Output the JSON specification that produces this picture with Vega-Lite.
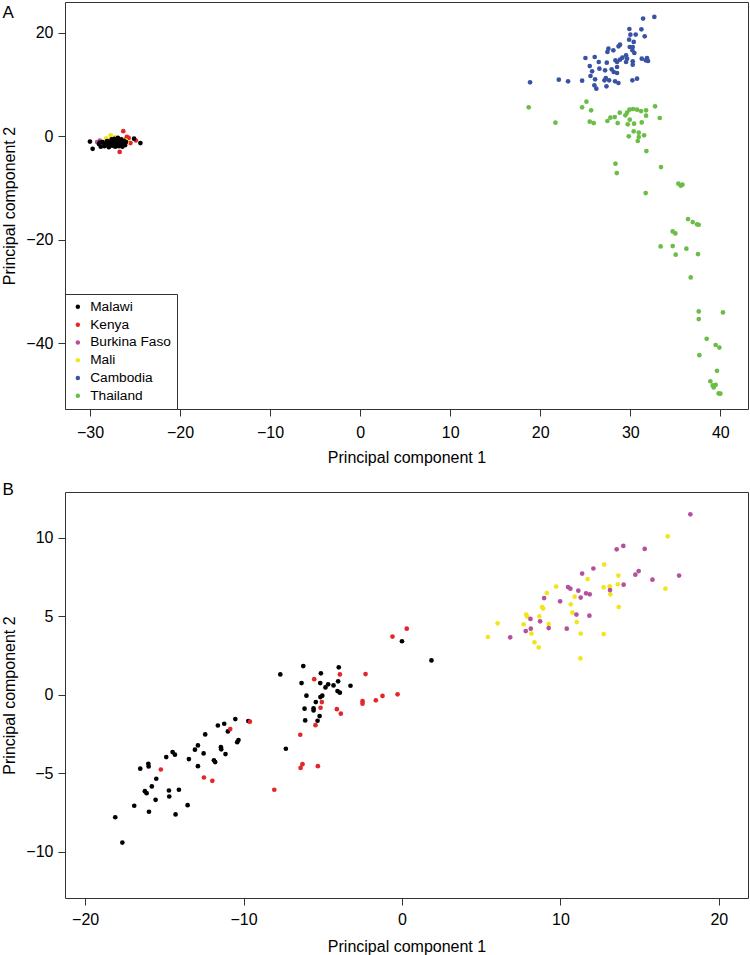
{
 "$schema": "https://vega.github.io/schema/vega-lite/v6.json",
 "padding": {"left": 0, "top": 1, "right": 0, "bottom": 0},
 "autosize": {"type": "pad"},
 "bounds": "flush",
 "spacing": 83,
 "background": "white",
 "datasets": {
  "pcaA": [
   {"country":"Kenya","pc1":-26.3,"pc2":1.0},{"country":"Kenya","pc1":-26.7,"pc2":-3.0},{"country":"Kenya","pc1":-25.9,"pc2":-0.1},{"country":"Kenya","pc1":-25.5,"pc2":-1.3},{"country":"Kenya","pc1":-24.9,"pc2":-0.8},{"country":"Kenya","pc1":-26.0,"pc2":-0.6},{"country":"Kenya","pc1":-25.7,"pc2":-0.3},{"country":"Kenya","pc1":-27.0,"pc2":-1.0},{"country":"Kenya","pc1":-27.5,"pc2":-0.8},{"country":"Kenya","pc1":-26.5,"pc2":-1.5},
   {"country":"Burkina Faso","pc1":-29.2,"pc2":-1.1},{"country":"Burkina Faso","pc1":-28.9,"pc2":-0.8},{"country":"Burkina Faso","pc1":-28.5,"pc2":-1.4},{"country":"Burkina Faso","pc1":-28.0,"pc2":-0.9},{"country":"Burkina Faso","pc1":-27.8,"pc2":-1.5},{"country":"Burkina Faso","pc1":-28.6,"pc2":-1.8},{"country":"Burkina Faso","pc1":-27.2,"pc2":-1.2},{"country":"Burkina Faso","pc1":-26.8,"pc2":-1.7},
   {"country":"Mali","pc1":-27.7,"pc2":0.2},{"country":"Mali","pc1":-26.0,"pc2":-0.8},{"country":"Mali","pc1":-27.2,"pc2":-0.2},{"country":"Mali","pc1":-28.2,"pc2":-0.4},{"country":"Mali","pc1":-26.6,"pc2":-0.5},{"country":"Mali","pc1":-27.5,"pc2":-1.0},{"country":"Mali","pc1":-28.4,"pc2":-1.0},{"country":"Mali","pc1":-25.9,"pc2":-1.2},
   {"country":"Malawi","pc1":-30.0,"pc2":-1.0},{"country":"Malawi","pc1":-29.7,"pc2":-2.4},{"country":"Malawi","pc1":-29.0,"pc2":-1.5},{"country":"Malawi","pc1":-28.8,"pc2":-2.0},{"country":"Malawi","pc1":-28.6,"pc2":-1.1},{"country":"Malawi","pc1":-28.4,"pc2":-1.9},{"country":"Malawi","pc1":-28.3,"pc2":-1.4},{"country":"Malawi","pc1":-28.1,"pc2":-0.9},{"country":"Malawi","pc1":-28.0,"pc2":-1.7},{"country":"Malawi","pc1":-27.9,"pc2":-2.1},{"country":"Malawi","pc1":-27.8,"pc2":-1.2},{"country":"Malawi","pc1":-27.6,"pc2":-0.6},{"country":"Malawi","pc1":-27.5,"pc2":-1.8},{"country":"Malawi","pc1":-27.4,"pc2":-1.3},{"country":"Malawi","pc1":-27.2,"pc2":-2.0},{"country":"Malawi","pc1":-27.1,"pc2":-0.9},{"country":"Malawi","pc1":-27.0,"pc2":-1.5},{"country":"Malawi","pc1":-26.9,"pc2":-0.3},{"country":"Malawi","pc1":-26.8,"pc2":-1.9},{"country":"Malawi","pc1":-26.7,"pc2":-1.1},{"country":"Malawi","pc1":-26.6,"pc2":-1.6},{"country":"Malawi","pc1":-26.5,"pc2":-0.6},{"country":"Malawi","pc1":-26.4,"pc2":-2.0},{"country":"Malawi","pc1":-26.3,"pc2":-1.3},{"country":"Malawi","pc1":-26.2,"pc2":-0.9},{"country":"Malawi","pc1":-26.1,"pc2":-1.7},{"country":"Malawi","pc1":-26.0,"pc2":-1.1},{"country":"Malawi","pc1":-25.1,"pc2":-0.45},{"country":"Malawi","pc1":-24.4,"pc2":-1.3},{"country":"Malawi","pc1":-28.9,"pc2":-1.2},{"country":"Malawi","pc1":-27.3,"pc2":-0.5},
   {"country":"Cambodia","pc1":32.67,"pc2":23.06},{"country":"Cambodia","pc1":31.42,"pc2":22.74},{"country":"Cambodia","pc1":29.9,"pc2":20.74},{"country":"Cambodia","pc1":31.23,"pc2":20.68},{"country":"Cambodia","pc1":30.01,"pc2":19.64},{"country":"Cambodia","pc1":30.6,"pc2":19.66},{"country":"Cambodia","pc1":31.6,"pc2":19.32},{"country":"Cambodia","pc1":29.87,"pc2":18.68},{"country":"Cambodia","pc1":30.38,"pc2":18.23},{"country":"Cambodia","pc1":28.86,"pc2":17.71},{"country":"Cambodia","pc1":28.7,"pc2":17.39},{"country":"Cambodia","pc1":29.94,"pc2":17.26},{"country":"Cambodia","pc1":30.27,"pc2":17.26},{"country":"Cambodia","pc1":27.57,"pc2":16.94},{"country":"Cambodia","pc1":28.12,"pc2":16.62},{"country":"Cambodia","pc1":27.46,"pc2":16.3},{"country":"Cambodia","pc1":30.23,"pc2":16.62},{"country":"Cambodia","pc1":30.45,"pc2":16.1},{"country":"Cambodia","pc1":29.53,"pc2":15.65},{"country":"Cambodia","pc1":29.12,"pc2":15.2},{"country":"Cambodia","pc1":28.86,"pc2":14.82},{"country":"Cambodia","pc1":28.35,"pc2":14.69},{"country":"Cambodia","pc1":28.53,"pc2":14.36},{"country":"Cambodia","pc1":25.02,"pc2":15.13},{"country":"Cambodia","pc1":26.05,"pc2":15.33},{"country":"Cambodia","pc1":26.5,"pc2":14.36},{"country":"Cambodia","pc1":27.39,"pc2":14.24},{"country":"Cambodia","pc1":29.53,"pc2":14.36},{"country":"Cambodia","pc1":30.27,"pc2":14.49},{"country":"Cambodia","pc1":31.27,"pc2":15.01},{"country":"Cambodia","pc1":31.71,"pc2":14.69},{"country":"Cambodia","pc1":31.97,"pc2":14.56},{"country":"Cambodia","pc1":30.27,"pc2":13.85},{"country":"Cambodia","pc1":25.5,"pc2":13.58},{"country":"Cambodia","pc1":25.76,"pc2":12.56},{"country":"Cambodia","pc1":26.57,"pc2":13.08},{"country":"Cambodia","pc1":27.2,"pc2":12.75},{"country":"Cambodia","pc1":27.93,"pc2":12.95},{"country":"Cambodia","pc1":28.16,"pc2":12.43},{"country":"Cambodia","pc1":28.53,"pc2":12.24},{"country":"Cambodia","pc1":25.58,"pc2":11.66},{"country":"Cambodia","pc1":26.09,"pc2":11.01},{"country":"Cambodia","pc1":27.28,"pc2":11.27},{"country":"Cambodia","pc1":27.13,"pc2":10.82},{"country":"Cambodia","pc1":27.65,"pc2":10.82},{"country":"Cambodia","pc1":28.31,"pc2":10.63},{"country":"Cambodia","pc1":28.68,"pc2":10.3},{"country":"Cambodia","pc1":30.23,"pc2":10.82},{"country":"Cambodia","pc1":30.75,"pc2":11.14},{"country":"Cambodia","pc1":24.65,"pc2":10.76},{"country":"Cambodia","pc1":23.09,"pc2":10.63},{"country":"Cambodia","pc1":22.06,"pc2":10.95},{"country":"Cambodia","pc1":18.87,"pc2":10.43},{"country":"Cambodia","pc1":26.01,"pc2":9.86},{"country":"Cambodia","pc1":26.23,"pc2":9.21},{"country":"Cambodia","pc1":27.35,"pc2":9.66},{"country":"Cambodia","pc1":28.53,"pc2":13.4},{"country":"Cambodia","pc1":29.64,"pc2":15.01},{"country":"Cambodia","pc1":31.86,"pc2":15.13},
   {"country":"Thailand","pc1":18.72,"pc2":5.6},{"country":"Thailand","pc1":21.69,"pc2":2.64},{"country":"Thailand","pc1":24.65,"pc2":5.6},{"country":"Thailand","pc1":25.13,"pc2":6.7},{"country":"Thailand","pc1":25.65,"pc2":5.02},{"country":"Thailand","pc1":25.5,"pc2":2.83},{"country":"Thailand","pc1":25.94,"pc2":2.57},{"country":"Thailand","pc1":27.46,"pc2":2.96},{"country":"Thailand","pc1":27.79,"pc2":3.6},{"country":"Thailand","pc1":28.27,"pc2":3.73},{"country":"Thailand","pc1":28.6,"pc2":2.57},{"country":"Thailand","pc1":28.83,"pc2":4.57},{"country":"Thailand","pc1":29.45,"pc2":4.06},{"country":"Thailand","pc1":29.64,"pc2":4.57},{"country":"Thailand","pc1":29.9,"pc2":5.15},{"country":"Thailand","pc1":30.3,"pc2":5.28},{"country":"Thailand","pc1":30.75,"pc2":5.15},{"country":"Thailand","pc1":31.19,"pc2":4.89},{"country":"Thailand","pc1":31.75,"pc2":5.02},{"country":"Thailand","pc1":31.75,"pc2":4.0},{"country":"Thailand","pc1":29.94,"pc2":3.22},{"country":"Thailand","pc1":29.72,"pc2":2.32},{"country":"Thailand","pc1":30.42,"pc2":2.45},{"country":"Thailand","pc1":31.27,"pc2":2.7},{"country":"Thailand","pc1":32.75,"pc2":5.8},{"country":"Thailand","pc1":33.27,"pc2":3.54},{"country":"Thailand","pc1":30.38,"pc2":0.97},{"country":"Thailand","pc1":30.94,"pc2":0.71},{"country":"Thailand","pc1":31.53,"pc2":0.19},{"country":"Thailand","pc1":29.83,"pc2":0.0},{"country":"Thailand","pc1":30.94,"pc2":-0.13},{"country":"Thailand","pc1":30.83,"pc2":-0.9},{"country":"Thailand","pc1":31.79,"pc2":-2.84},{"country":"Thailand","pc1":28.35,"pc2":-5.28},{"country":"Thailand","pc1":28.5,"pc2":-7.09},{"country":"Thailand","pc1":33.41,"pc2":-5.93},{"country":"Thailand","pc1":31.71,"pc2":-10.96},{"country":"Thailand","pc1":35.34,"pc2":-9.14},{"country":"Thailand","pc1":35.6,"pc2":-9.53},{"country":"Thailand","pc1":35.79,"pc2":-9.34},{"country":"Thailand","pc1":36.41,"pc2":-15.98},{"country":"Thailand","pc1":36.93,"pc2":-16.56},{"country":"Thailand","pc1":37.41,"pc2":-17.0},{"country":"Thailand","pc1":37.6,"pc2":-17.07},{"country":"Thailand","pc1":34.71,"pc2":-18.36},{"country":"Thailand","pc1":35.0,"pc2":-18.74},{"country":"Thailand","pc1":33.37,"pc2":-21.26},{"country":"Thailand","pc1":34.71,"pc2":-21.2},{"country":"Thailand","pc1":36.23,"pc2":-21.7},{"country":"Thailand","pc1":35.04,"pc2":-22.86},{"country":"Thailand","pc1":37.52,"pc2":-22.74},{"country":"Thailand","pc1":36.71,"pc2":-27.25},{"country":"Thailand","pc1":37.6,"pc2":-33.82},{"country":"Thailand","pc1":37.6,"pc2":-35.3},{"country":"Thailand","pc1":40.29,"pc2":-34.0},{"country":"Thailand","pc1":38.48,"pc2":-39.1},{"country":"Thailand","pc1":39.48,"pc2":-40.3},{"country":"Thailand","pc1":39.89,"pc2":-40.8},{"country":"Thailand","pc1":37.67,"pc2":-42.26},{"country":"Thailand","pc1":39.63,"pc2":-45.28},{"country":"Thailand","pc1":38.89,"pc2":-47.3},{"country":"Thailand","pc1":39.15,"pc2":-48.1},{"country":"Thailand","pc1":39.48,"pc2":-48.0},{"country":"Thailand","pc1":39.26,"pc2":-48.5},{"country":"Thailand","pc1":39.81,"pc2":-49.66},{"country":"Thailand","pc1":40.0,"pc2":-49.7}
  ],
  "pcaB": [
   {"country":"Malawi","pc1":-16.52,"pc2":-4.71},{"country":"Malawi","pc1":-16.01,"pc2":-4.4},{"country":"Malawi","pc1":-15.99,"pc2":-4.57},{"country":"Malawi","pc1":-15.51,"pc2":-5.35},{"country":"Malawi","pc1":-16.23,"pc2":-6.14},{"country":"Malawi","pc1":-16.12,"pc2":-6.27},{"country":"Malawi","pc1":-15.79,"pc2":-5.84},{"country":"Malawi","pc1":-14.88,"pc2":-3.97},{"country":"Malawi","pc1":-14.48,"pc2":-3.65},{"country":"Malawi","pc1":-14.33,"pc2":-3.82},{"country":"Malawi","pc1":-14.71,"pc2":-6.1},{"country":"Malawi","pc1":-14.08,"pc2":-6.05},{"country":"Malawi","pc1":-14.69,"pc2":-6.48},{"country":"Malawi","pc1":-15.55,"pc2":-6.69},{"country":"Malawi","pc1":-13.45,"pc2":-4.1},{"country":"Malawi","pc1":-13.07,"pc2":-3.5},{"country":"Malawi","pc1":-12.88,"pc2":-3.23},{"country":"Malawi","pc1":-12.88,"pc2":-4.55},{"country":"Malawi","pc1":-12.52,"pc2":-3.74},{"country":"Malawi","pc1":-12.42,"pc2":-2.53},{"country":"Malawi","pc1":-11.87,"pc2":-4.18},{"country":"Malawi","pc1":-11.79,"pc2":-4.29},{"country":"Malawi","pc1":-11.62,"pc2":-1.96},{"country":"Malawi","pc1":-11.43,"pc2":-3.34},{"country":"Malawi","pc1":-11.41,"pc2":-3.48},{"country":"Malawi","pc1":-11.22,"pc2":-1.85},{"country":"Malawi","pc1":-11.14,"pc2":-3.78},{"country":"Malawi","pc1":-10.99,"pc2":-2.34},{"country":"Malawi","pc1":-10.52,"pc2":-1.55},{"country":"Malawi","pc1":-10.4,"pc2":-3.02},{"country":"Malawi","pc1":-10.32,"pc2":-2.89},{"country":"Malawi","pc1":-9.7,"pc2":-1.68},{"country":"Malawi","pc1":-7.68,"pc2":1.29},{"country":"Malawi","pc1":-7.33,"pc2":-3.44},{"country":"Malawi","pc1":-6.34,"pc2":0.74},{"country":"Malawi","pc1":-6.23,"pc2":1.82},{"country":"Malawi","pc1":-18.1,"pc2":-7.8},{"country":"Malawi","pc1":-17.65,"pc2":-9.41},{"country":"Malawi","pc1":-16.9,"pc2":-7.07},{"country":"Malawi","pc1":-15.97,"pc2":-7.45},{"country":"Malawi","pc1":-14.29,"pc2":-7.62},{"country":"Malawi","pc1":-13.53,"pc2":-7.03},{"country":"Malawi","pc1":1.86,"pc2":2.18},{"country":"Malawi","pc1":-3.99,"pc2":1.74},{"country":"Malawi","pc1":-5.12,"pc2":1.36},{"country":"Malawi","pc1":-5.16,"pc2":0.74},{"country":"Malawi","pc1":-4.83,"pc2":0.46},{"country":"Malawi","pc1":-4.66,"pc2":0.66},{"country":"Malawi","pc1":-4.32,"pc2":0.59},{"country":"Malawi","pc1":-4.03,"pc2":0.85},{"country":"Malawi","pc1":-4.07,"pc2":0.23},{"country":"Malawi","pc1":-3.92,"pc2":0.13},{"country":"Malawi","pc1":-3.25,"pc2":0.57},{"country":"Malawi","pc1":-6.03,"pc2":-0.06},{"country":"Malawi","pc1":-5.15,"pc2":-0.15},{"country":"Malawi","pc1":-5.03,"pc2":-0.06},{"country":"Malawi","pc1":-5.44,"pc2":-0.47},{"country":"Malawi","pc1":-6.15,"pc2":-0.89},{"country":"Malawi","pc1":-5.58,"pc2":-0.87},{"country":"Malawi","pc1":-5.58,"pc2":-1.0},{"country":"Malawi","pc1":-5.2,"pc2":-1.36},{"country":"Malawi","pc1":-5.33,"pc2":-1.66},{"country":"Malawi","pc1":-6.11,"pc2":-1.64},{"country":"Malawi","pc1":0.0,"pc2":3.4},
   {"country":"Kenya","pc1":-15.22,"pc2":-4.76},{"country":"Kenya","pc1":-12.5,"pc2":-5.27},{"country":"Kenya","pc1":-11.97,"pc2":-5.48},{"country":"Kenya","pc1":-10.84,"pc2":-2.19},{"country":"Kenya","pc1":-9.6,"pc2":-1.72},{"country":"Kenya","pc1":-8.06,"pc2":-6.05},{"country":"Kenya","pc1":-6.42,"pc2":-2.55},{"country":"Kenya","pc1":-6.4,"pc2":-4.66},{"country":"Kenya","pc1":-6.28,"pc2":-4.42},{"country":"Kenya","pc1":-5.31,"pc2":-4.55},{"country":"Kenya","pc1":-5.54,"pc2":0.99},{"country":"Kenya","pc1":-3.92,"pc2":1.29},{"country":"Kenya","pc1":-2.3,"pc2":1.31},{"country":"Kenya","pc1":-5.14,"pc2":-0.83},{"country":"Kenya","pc1":-5.06,"pc2":-0.47},{"country":"Kenya","pc1":-4.11,"pc2":-0.92},{"country":"Kenya","pc1":-3.86,"pc2":-1.21},{"country":"Kenya","pc1":-2.49,"pc2":-0.41},{"country":"Kenya","pc1":-2.49,"pc2":-0.57},{"country":"Kenya","pc1":-1.65,"pc2":-0.36},{"country":"Kenya","pc1":-1.23,"pc2":-0.08},{"country":"Kenya","pc1":-0.28,"pc2":0.02},{"country":"Kenya","pc1":-5.46,"pc2":-1.94},{"country":"Kenya","pc1":0.3,"pc2":4.2},{"country":"Kenya","pc1":-0.6,"pc2":3.7},
   {"country":"Mali","pc1":16.77,"pc2":10.08},{"country":"Mali","pc1":12.76,"pc2":8.28},{"country":"Mali","pc1":13.66,"pc2":7.58},{"country":"Mali","pc1":11.72,"pc2":7.36},{"country":"Mali","pc1":9.73,"pc2":6.88},{"country":"Mali","pc1":9.14,"pc2":6.47},{"country":"Mali","pc1":12.73,"pc2":6.83},{"country":"Mali","pc1":13.11,"pc2":6.9},{"country":"Mali","pc1":13.62,"pc2":7.03},{"country":"Mali","pc1":13.15,"pc2":6.39},{"country":"Mali","pc1":16.63,"pc2":6.75},{"country":"Mali","pc1":10.9,"pc2":6.24},{"country":"Mali","pc1":8.84,"pc2":5.58},{"country":"Mali","pc1":8.91,"pc2":5.48},{"country":"Mali","pc1":10.65,"pc2":5.75},{"country":"Mali","pc1":13.68,"pc2":5.58},{"country":"Mali","pc1":7.84,"pc2":5.1},{"country":"Mali","pc1":7.9,"pc2":4.97},{"country":"Mali","pc1":8.67,"pc2":4.99},{"country":"Mali","pc1":10.76,"pc2":5.22},{"country":"Mali","pc1":6.04,"pc2":4.54},{"country":"Mali","pc1":7.68,"pc2":4.48},{"country":"Mali","pc1":9.26,"pc2":4.5},{"country":"Mali","pc1":11.03,"pc2":4.62},{"country":"Mali","pc1":5.42,"pc2":3.67},{"country":"Mali","pc1":8.17,"pc2":3.89},{"country":"Mali","pc1":11.28,"pc2":3.89},{"country":"Mali","pc1":12.73,"pc2":3.86},{"country":"Mali","pc1":8.36,"pc2":3.33},{"country":"Mali","pc1":8.63,"pc2":3.01},{"country":"Mali","pc1":11.26,"pc2":2.31},
   {"country":"Burkina Faso","pc1":18.2,"pc2":11.48},{"country":"Burkina Faso","pc1":13.55,"pc2":9.25},{"country":"Burkina Faso","pc1":13.97,"pc2":9.47},{"country":"Burkina Faso","pc1":15.32,"pc2":9.28},{"country":"Burkina Faso","pc1":11.37,"pc2":7.71},{"country":"Burkina Faso","pc1":12.08,"pc2":8.03},{"country":"Burkina Faso","pc1":14.73,"pc2":7.64},{"country":"Burkina Faso","pc1":14.94,"pc2":7.87},{"country":"Burkina Faso","pc1":15.81,"pc2":7.32},{"country":"Burkina Faso","pc1":17.49,"pc2":7.58},{"country":"Burkina Faso","pc1":10.48,"pc2":6.85},{"country":"Burkina Faso","pc1":10.63,"pc2":6.75},{"country":"Burkina Faso","pc1":11.13,"pc2":6.62},{"country":"Burkina Faso","pc1":11.62,"pc2":6.45},{"country":"Burkina Faso","pc1":11.85,"pc2":6.39},{"country":"Burkina Faso","pc1":13.13,"pc2":6.66},{"country":"Burkina Faso","pc1":13.99,"pc2":7.0},{"country":"Burkina Faso","pc1":8.97,"pc2":6.15},{"country":"Burkina Faso","pc1":9.98,"pc2":5.94},{"country":"Burkina Faso","pc1":11.28,"pc2":6.18},{"country":"Burkina Faso","pc1":8.11,"pc2":4.82},{"country":"Burkina Faso","pc1":8.72,"pc2":4.67},{"country":"Burkina Faso","pc1":11.01,"pc2":5.1},{"country":"Burkina Faso","pc1":11.83,"pc2":5.03},{"country":"Burkina Faso","pc1":7.81,"pc2":4.05},{"country":"Burkina Faso","pc1":8.13,"pc2":4.2},{"country":"Burkina Faso","pc1":9.26,"pc2":4.24},{"country":"Burkina Faso","pc1":10.4,"pc2":4.2},{"country":"Burkina Faso","pc1":6.83,"pc2":3.65}
  ]
 },
 "vconcat": [
  {
   "title": {"text": "A", "dx": -62.6, "dy": 14.8, "baseline": "alphabetic", "offset": -18.5, "anchor": "start", "frame": "group", "fontSize": 17, "fontWeight": "normal", "font": "Liberation Sans", "color": "#000000"},
   "width": 683,
   "height": 407,
   "data": {"name": "pcaA"},
   "mark": {"type": "circle", "size": 22, "opacity": 1},
   "encoding": {
    "x": {"field": "pc1", "type": "quantitative", "scale": {"domain": [-32.77, 43.07], "nice": false, "zero": false}, "axis": {"title": "Principal component 1", "values": [-30, -20, -10, 0, 10, 20, 30, 40], "labelPadding": 8, "titlePadding": 9}},
    "y": {"field": "pc2", "type": "quantitative", "scale": {"domain": [-52.66, 25.95], "nice": false, "zero": false}, "axis": {"title": "Principal component 2", "values": [-40, -20, 0, 20], "labelPadding": 5, "titlePadding": 8.6}},
    "color": {"field": "country", "type": "nominal",
     "scale": {"domain": ["Malawi", "Kenya", "Burkina Faso", "Mali", "Cambodia", "Thailand"], "range": ["#000000", "#e3262b", "#b5509f", "#f2e51c", "#3953a4", "#6abd45"]},
     "legend": {"orient": "bottom-left", "offset": 0, "title": null, "padding": 6, "strokeColor": "#333333", "fillColor": "white", "labelFontSize": 13.7, "labelFont": "Liberation Sans", "labelColor": "#000000", "symbolSize": 20, "symbolType": "circle", "symbolStrokeWidth": 0, "rowPadding": 2.8, "labelOffset": 5.5, "cornerRadius": 0}}
   }
  },
  {
   "title": {"text": "B", "dx": -62.6, "dy": 14.5, "baseline": "alphabetic", "offset": -5.1, "anchor": "start", "frame": "group", "fontSize": 17, "fontWeight": "normal", "font": "Liberation Sans", "color": "#000000"},
   "width": 683,
   "height": 406,
   "data": {"name": "pcaB"},
   "mark": {"type": "circle", "size": 22, "opacity": 1},
   "encoding": {
    "x": {"field": "pc1", "type": "quantitative", "scale": {"domain": [-21.27, 21.84], "nice": false, "zero": false}, "axis": {"title": "Principal component 1", "values": [-20, -10, 0, 10, 20], "labelPadding": 6.5, "titlePadding": 11}},
    "y": {"field": "pc2", "type": "quantitative", "scale": {"domain": [-12.94, 12.9], "nice": false, "zero": false}, "axis": {"title": "Principal component 2", "values": [-10, -5, 0, 5, 10], "labelPadding": 5, "titlePadding": 8.6}},
    "color": {"field": "country", "type": "nominal",
     "scale": {"domain": ["Malawi", "Kenya", "Burkina Faso", "Mali", "Cambodia", "Thailand"], "range": ["#000000", "#e3262b", "#b5509f", "#f2e51c", "#3953a4", "#6abd45"]},
     "legend": null}
   }
  }
 ],
 "resolve": {"legend": {"color": "independent"}},
 "config": {
  "font": "Liberation Sans",
  "view": {"stroke": "#333333", "strokeWidth": 1},
  "axis": {"domain": false, "grid": false, "tickSize": 7, "tickColor": "#333333", "tickWidth": 1, "labelFontSize": 16, "titleFontSize": 16, "labelColor": "#000000", "titleColor": "#000000", "titleFontWeight": "normal", "labelFont": "Liberation Sans", "titleFont": "Liberation Sans", "labelFlush": false, "labelOverlap": false},
  "title": {"fontSize": 17, "fontWeight": "normal", "font": "Liberation Sans", "anchor": "start", "frame": "group", "baseline": "alphabetic", "offset": 0, "color": "#000000"}
 }
}
